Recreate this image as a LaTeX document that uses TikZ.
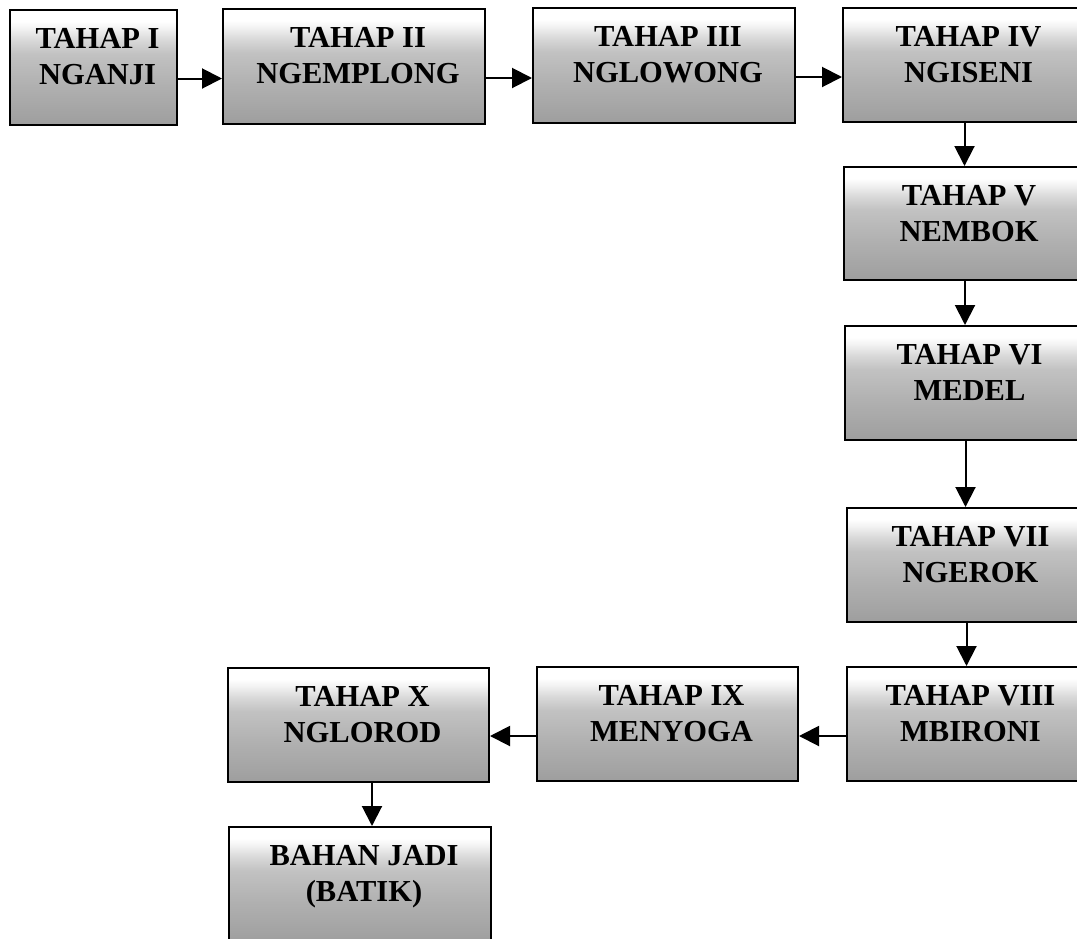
\documentclass[tikz,border=0pt]{standalone}
\usepackage{fontspec}
\setmainfont{Liberation Serif}
\usetikzlibrary{arrows.meta,calc}
\pgfdeclareverticalshading{boxshade}{100bp}{color(0bp)=(black!38); color(25bp)=(black!38); color(42bp)=(black!31); color(56bp)=(black!24); color(62bp)=(black!15); color(67bp)=(black!5); color(70bp)=(white); color(75bp)=(white); color(100bp)=(white)}
\newcommand{\twoline}[2]{\vtop{\halign{\hfil##\hfil\cr #1\cr #2\cr}}}
\newcommand{\stage}[7]{%
  \node[stagebox, minimum width={#4pt-#2pt}, minimum height={#5pt-#3pt}] (#1) at ({(#2+#4)/2},{(#3+#5)/2}) {};
  \node[stagetext] (#1-t) at ({(#2+#4)/2+4},{#3+38}) {\twoline{#6}{#7}};
}
\begin{document}
\begin{tikzpicture}[x=1pt,y=-1pt,
  stagebox/.style={draw=black, line width=2pt, shading=boxshade, inner sep=0pt, rectangle},
  stagetext/.style={anchor=base, inner sep=0pt, font=\bfseries\fontsize{30.5}{36}\selectfont, text=black},
  arr/.style={line width=2pt, -{Triangle[length=20pt,width=20pt]}}]
\useasboundingbox (0,0) rectangle (1077,938);
\clip (0,0) rectangle (1077,938);
\stage{b1}{10}{10}{177}{125}{TAHAP I}{NGANJI}
\stage{b2}{223}{9}{485}{124}{TAHAP II}{NGEMPLONG}
\stage{b3}{533}{8}{795}{123}{TAHAP III}{NGLOWONG}
\stage{b4}{843}{8}{1086}{122}{TAHAP IV}{NGISENI}
\stage{b5}{844}{167}{1086}{280}{TAHAP V}{NEMBOK}
\stage{b6}{845}{326}{1086}{440}{TAHAP VI}{MEDEL}
\stage{b7}{847}{508}{1086}{622}{TAHAP VII}{NGEROK}
\stage{b8}{847}{667}{1086}{781}{TAHAP VIII}{MBIRONI}
\stage{b9}{537}{667}{798}{781}{TAHAP IX}{MENYOGA}
\stage{b10}{228}{668}{489}{782}{TAHAP X}{NGLOROD}
\stage{bj}{229}{827}{491}{942}{BAHAN JADI}{(BATIK)}
% horizontal arrows, top row
\draw[arr] ([yshift=-11pt]b1.east) -- ([yshift=-11pt]b1.east -| b2.west);
\draw[arr] ([yshift=-11.5pt]b2.east) -- ([yshift=-11.5pt]b2.east -| b3.west);
\draw[arr] ([yshift=-11.5pt]b3.east) -- ([yshift=-11.5pt]b3.east -| b4.west);
% vertical arrows, right column
\draw[arr] (b4.south) -- (b4.south |- b5.north);
\draw[arr] (b5.south) -- (b5.south |- b6.north);
\draw[arr] (b6.south) -- (b6.south |- b7.north);
\draw[arr] (b7.south) -- (b7.south |- b8.north);
% bottom row, right to left
\draw[arr] ([yshift=-12pt]b8.west) -- ([yshift=-12pt]b8.west -| b9.east);
\draw[arr] ([yshift=-12pt]b9.west) -- ([yshift=-12pt]b9.west -| b10.east);
% to final product
\draw[arr] ([xshift=13.5pt]b10.south) -- ([xshift=13.5pt]b10.south |- bj.north);
\end{tikzpicture}
\end{document}
